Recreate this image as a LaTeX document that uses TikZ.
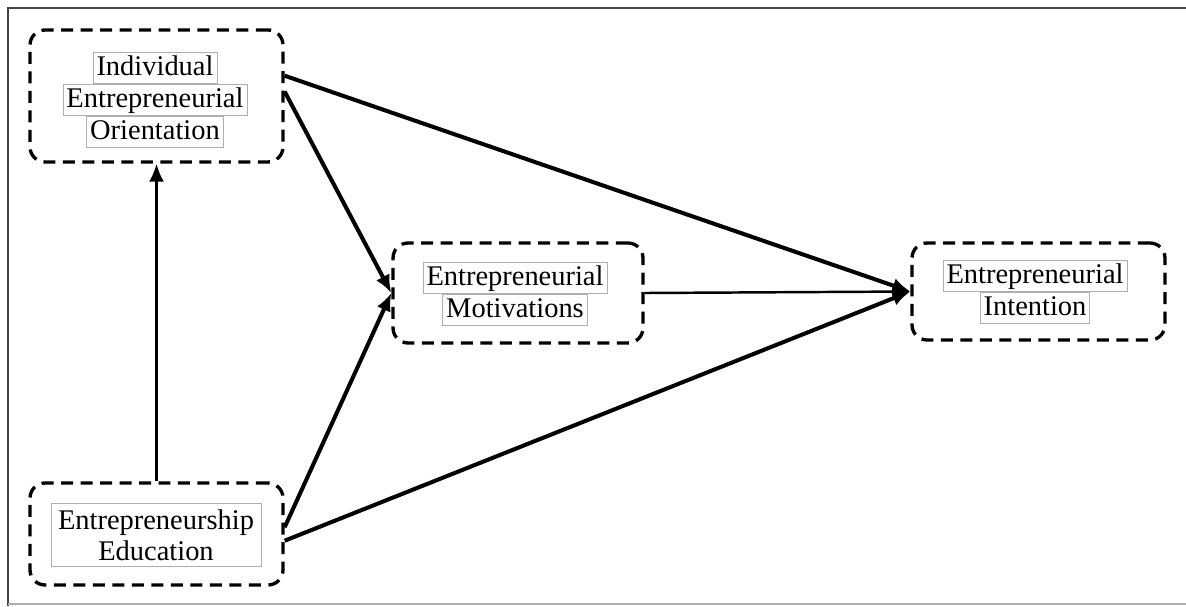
\documentclass[tikz,border=0pt]{standalone}
\usepackage{fontspec}
\setmainfont{Liberation Serif}
\usetikzlibrary{positioning,arrows.meta}
\definecolor{frameColor}{RGB}{70,70,70}
\definecolor{labelBoxColor}{RGB}{175,175,175}
\tikzstyle{paperPlane} = [x = 0.02cm, y = -0.02cm]
\tikzstyle{dashedBox} = [draw, line width = 1.9pt, dash pattern = on 0.24cm off 0.15cm, rounded corners = .3cm, inner sep = 0pt]
\tikzstyle{lineBox} = [draw = labelBoxColor, line width = .5pt, inner xsep = .07cm, inner ysep = .04cm, text height = .42cm, text depth = .12cm, font = \fontsize{16.2}{18}\selectfont]
\tikzstyle{thickPath} = [line width = 2.3pt, -{Latex[length = .36cm, width = .3cm]}]
\tikzstyle{thinPath} = [line width = 1.4pt, -{Latex[length = .36cm, width = .3cm]}]

\begin{document}
\begin{tikzpicture}[paperPlane, node distance = 0pt]
  \useasboundingbox (0,0) rectangle (1186,606);
  % frame
  \draw [frameColor, line width = 1.2pt] (8,606) -- (8,8) -- (1186,8);
  \draw [labelBoxColor, line width = 1.2pt] (8,604) -- (1186,604);

  % outer dashed boxes
  \node [dashedBox, minimum width = 5.06cm, minimum height = 2.64cm] (orientation) at (156.5,96) {};
  \node [dashedBox, minimum width = 5cm, minimum height = 2cm] (motivations) at (518,293) {};
  \node [dashedBox, minimum width = 5.06cm, minimum height = 1.94cm] (intention) at (1038.5,291.5) {};
  \node [dashedBox, minimum width = 5.06cm, minimum height = 2.04cm] (education) at (156.5,534) {};

  % labels
  \node [lineBox] (orientationB) at (155,100) {Entrepreneurial};
  \node [lineBox, above = of orientationB] (orientationA) {Individual};
  \node [lineBox, below = of orientationB] (orientationC) {Orientation};

  \node [lineBox] (motivationsA) at (515,278) {Entrepreneurial};
  \node [lineBox, below = of motivationsA] (motivationsB) {Motivations};

  \node [lineBox] (intentionA) at (1035,276) {Entrepreneurial};
  \node [lineBox, below = of intentionA] (intentionB) {Intention};

  \node [lineBox, align = center, text height = , text depth = , inner xsep = .14cm, inner ysep = .12cm,
         font = \fontsize{16.2}{17.6}\selectfont] (educationText) at (156,535) {Entrepreneurship\\Education};

  % paths
  \draw [thinPath] (education.north) -- (orientation.south);
  \draw [thickPath] (orientation.9) -- (intention.west);
  \draw [thickPath] (orientation.2) -- (motivations.west);
  \draw [thickPath] (education.3) -- (motivations.west);
  \draw [thickPath] (education.-3) -- (intention.west);
  \draw [thinPath] (motivations.east) -- (intention.west);
\end{tikzpicture}
\end{document}
